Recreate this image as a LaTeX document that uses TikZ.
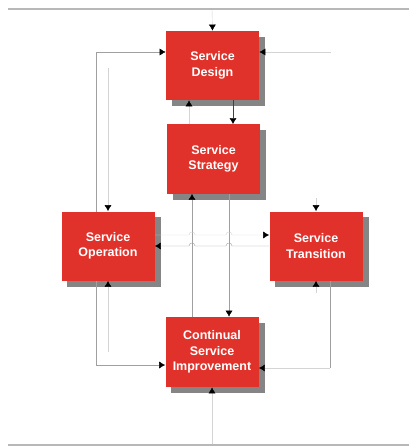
\documentclass[tikz,border=0pt]{standalone}
\usepackage{fontspec}
\setmainfont{Liberation Sans}
\usetikzlibrary{arrows.meta}
\definecolor{boxred}{HTML}{E0322A}
\definecolor{shadowgray}{HTML}{858585}
\definecolor{rulegray}{HTML}{B8B8B8}
\definecolor{wire}{HTML}{A0A0A0}
\definecolor{faint}{HTML}{D4D4D4}
\pgfdeclarelayer{shadow}
\pgfdeclarelayer{wires}
\pgfsetlayers{shadow,wires,main}

\begin{document}
\begin{tikzpicture}[x=1pt,y=-1pt,>={Latex[black,length=6pt,width=7pt]},line width=.8pt,every node/.style={font=\bfseries\fontsize{12.5}{15.5}\selectfont,text=white},stage/.style={fill=boxred,minimum width=93pt,minimum height=69pt,inner sep=0pt,align=center},link/.style={->,draw=wire},pale/.style={->,draw=faint}]
\path[use as bounding box] (0,0) rectangle (409,446);

\node[stage] (design) at (212.5,65.5) {Service\\Design};
\node[stage] (strategy) at (213.5,159) {Service\\Strategy};
\node[stage] (operation) at (108,246) {Service\\Operation};
\node[stage] (transition) at (316,246) {Service\\Transition};
\node[stage,minimum height=70pt] (csi) at (212,352) {Continual\\Service\\Improvement};

\coordinate (feed) at (212,9);
\coordinate (exit) at (212,445);
\coordinate (rin) at (331,52);
\coordinate (lt) at (96,52);
\coordinate (lb) at (96,365);
\coordinate (ot) at (108,68);
\coordinate (ob) at (108,352);
\coordinate (rb) at (330,368);
\coordinate (tt) at (316,198);
\coordinate (tb) at (316,293);
\coordinate (bx) at (189,0);
\coordinate (dd) at (233,0);
\coordinate (sx) at (192,0);
\coordinate (dx) at (229,0);
\coordinate (uy) at (0,235);

\begin{pgfonlayer}{shadow}
\foreach \n in {design,strategy,operation,transition,csi}
  \fill[shadowgray] ([shift={(6pt,-6pt)}]\n.north west) rectangle ([shift={(6pt,-6pt)}]\n.south east);
\end{pgfonlayer}

\draw[rulegray,line width=1.5pt] (8,9) -- (409,9);
\draw[rulegray,line width=1.5pt] (8,445) -- (409,445);

\begin{pgfonlayer}{wires}
\draw[pale] (feed) -- (design.north);
\draw[pale] (rin) -- (design.east |- rin);
\draw[link,<->] (csi.west |- lb) -- (lb) -- (lt) -- (design.west |- lt);
\draw[pale] (ot) -- (operation.north);
\draw[pale] (ob) -- (operation.south);
\draw[pale] (strategy.north -| bx) -- (design.south -| bx);
\draw[->,draw=black!75] (design.south -| dd) -- (strategy.north -| dd);
\draw[link] (csi.north -| sx) -- (strategy.south -| sx);
\draw[link] (strategy.south -| dx) -- (csi.north -| dx);
% crossings get a small hump
\draw[link] (transition.west) -- (232,246) .. controls (232,242) and (226,242) .. (226,246)
  -- (195,246) .. controls (195,242) and (189,242) .. (189,246) -- (operation.east);
\draw[pale] (operation.east |- uy) -- (189,235) .. controls (189,231) and (195,231) .. (195,235)
  -- (226,235) .. controls (226,231) and (232,231) .. (232,235) -- (transition.west |- uy);
\draw[pale] (tt) -- (transition.north);
\draw[pale] (tb) -- (transition.south);
\draw[draw=wire] ([xshift=14]transition.south) -- (rb);
\draw[pale] (rb) -- (csi.east |- rb);
\draw[pale] (exit) -- (csi.south);
\end{pgfonlayer}

\end{tikzpicture}
\end{document}
